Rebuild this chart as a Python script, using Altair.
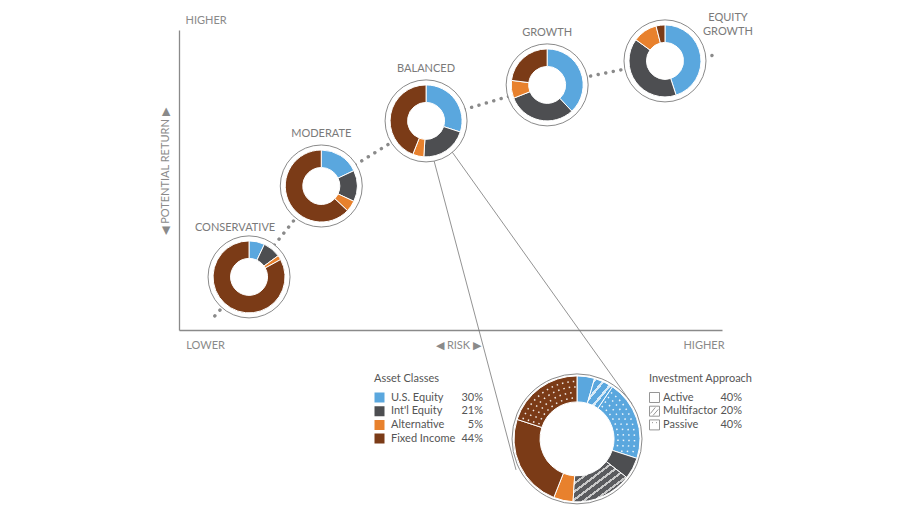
import math
import numpy as np
import pandas as pd
import altair as alt

# ---------------- data ----------------
PORTFOLIOS = ["Conservative", "Moderate", "Balanced", "Growth", "Equity Growth"]
PORTFOLIO_LABELS = ["CONSERVATIVE", "MODERATE", "BALANCED", "GROWTH", "EQUITY GROWTH"]
RISK = [1.29, 2.62, 4.55, 6.78, 8.95]          # 0 (lower) .. 10 (higher)
RETURN = [1.77, 4.80, 6.97, 8.17, 8.97]        # 0 (lower) .. 10 (higher)

ASSET_CLASSES = ["U.S. Equity", "Int'l Equity", "Alternative", "Fixed Income"]
US_EQUITY = [7, 18, 30, 38, 45]
INTL_EQUITY = [8, 14, 21, 31, 40]
ALTERNATIVE = [2, 5, 5, 8, 11]
FIXED_INCOME = [83, 63, 44, 23, 4]
ASSET_PCT = [30, 21, 5, 44]                    # balanced portfolio

APPROACHES = ["Active", "Multifactor", "Passive"]
APPROACH_PCT = [40, 20, 40]

DETAIL_ASSET = ["U.S. Equity", "U.S. Equity", "U.S. Equity", "Int'l Equity", "Int'l Equity",
                "Alternative", "Fixed Income", "Fixed Income"]
DETAIL_APPROACH = ["Active", "Multifactor", "Passive", "Active", "Multifactor",
                   "Active", "Active", "Passive"]
DETAIL_VALUE = [4.5, 5, 20.5, 5.5, 15.5, 5, 24, 20]
DETAIL_RISK, DETAIL_RETURN = 7.33, -3.63       # where the enlarged donut sits

TREND_START = (0.66, 0.47)
TREND_END = (9.91, 9.17)

# ---------------- styles ----------------
FONT = "Lato"
GREY = "#8a8a8a"
TXT = "#555555"
COLORS = ["#5aa7de", "#4d4e51", "#e8812d", "#7b3b17"]

XS = alt.Scale(domain=[0, 10], nice=False, zero=False)
YS = alt.Scale(domain=[0, 10], nice=False, zero=False)
TS = alt.Scale(domain=[0, 100], range=[0, 2 * math.pi])
CS = alt.Scale(domain=ASSET_CLASSES, range=COLORS)

XAX = alt.Axis(values=[0.48, 9.66], labelExpr="datum.value < 5 ? 'LOWER' : 'HIGHER'",
               ticks=False, grid=False, domainColor=GREY, domainWidth=1.3,
               labelFont=FONT, labelFontSize=11, labelColor=GREY, labelPadding=9,
               labelAlign="center", labelFlush=False,
               title="◀ RISK ▶", titleFont=FONT, titleFontSize=11, titleFontWeight="normal",
               titleColor=GREY, titleX=279, titleY=15, titleBaseline="middle", titleAlign="center")
YAX = alt.Axis(values=[10], labelExpr="'HIGHER'", ticks=False, grid=False,
               domainColor=GREY, domainWidth=1.3, labelFont=FONT, labelFontSize=11,
               labelColor=GREY, labelAlign="left", labelBaseline="middle", labelPadding=-6,
               labelOffset=-10, labelFlush=False,
               title="◀ POTENTIAL RETURN ▶", titleFont=FONT, titleFontSize=11,
               titleFontWeight="normal", titleColor=GREY, titleAngle=270, titleX=-14,
               titleY=141, titleAlign="center", titleBaseline="middle")

LEG_COMMON = dict(labelFont=FONT, labelFontSize=11, labelColor=TXT, rowPadding=0.7, padding=0,
                  symbolSize=100, clipHeight=13)
TITLE_COMMON = dict(titleFont=FONT, titleFontSize=11, titleFontWeight="normal", titleColor=TXT,
                    titlePadding=7)

CLEG = alt.Legend(title="Asset Classes", orient="none", legendX=195, legendY=343,
                  symbolType="square", symbolStrokeWidth=0, labelOffset=6,
                  **LEG_COMMON, **TITLE_COMMON)


def pos():
    return dict(x=alt.X("risk:Q", scale=XS, axis=XAX), y=alt.Y("ret:Q", scale=YS, axis=YAX))


# ---------------- tables ----------------
port = pd.DataFrame({"portfolio": PORTFOLIOS, "label": PORTFOLIO_LABELS, "risk": RISK, "ret": RETURN})

rows = []
for i, name in enumerate(PORTFOLIOS):
    s = 0
    for asset, vals in zip(ASSET_CLASSES, [US_EQUITY, INTL_EQUITY, ALTERNATIVE, FIXED_INCOME]):
        rows.append(dict(portfolio=name, risk=RISK[i], ret=RETURN[i], asset=asset, start=s, end=s + vals[i]))
        s += vals[i]
donuts = pd.DataFrame(rows)

drows = []
s = 0
for a, ap, v in zip(DETAIL_ASSET, DETAIL_APPROACH, DETAIL_VALUE):
    drows.append(dict(risk=DETAIL_RISK, ret=DETAIL_RETURN, asset=a, approach=ap, start=s, end=s + v))
    s += v
detail = pd.DataFrame(drows)

R_IN, R_OUT = 37, 63
dot_rows = []
for _, seg in detail[detail.approach == "Passive"].iterrows():
    for r in np.arange(R_IN + 4, R_OUT - 2, 5.5):
        step = 5.5 / r / (2 * math.pi) * 100
        half = 0.75 / r / (2 * math.pi) * 100
        t = seg.start + step / 2
        while t < seg.end - step / 3:
            dot_rows.append(dict(risk=seg.risk, ret=seg.ret, t0=t - half, t1=t + half, r0=r - 0.75, r1=r + 0.75))
            t += step
dots = pd.DataFrame(dot_rows)

trend = pd.DataFrame({"risk": [TREND_START[0]] + RISK + [TREND_END[0]],
                      "ret": [TREND_START[1]] + RETURN + [TREND_END[1]]})

bi = PORTFOLIOS.index("Balanced")
conn = pd.DataFrame({"risk": [RISK[bi]], "ret": [RETURN[bi]], "risk2": [DETAIL_RISK], "ret2": [DETAIL_RETURN]})
det_center = pd.DataFrame({"risk": [DETAIL_RISK], "ret": [DETAIL_RETURN]})

asset_pct = pd.DataFrame({"key": [f"{a}|{p}%" for a, p in zip(ASSET_CLASSES, ASSET_PCT)]})
appr = pd.DataFrame({"approach": APPROACHES, "risk": DETAIL_RISK, "ret": DETAIL_RETURN})
appr_pct = pd.DataFrame({"key": [f"{a}|{p}%" for a, p in zip(APPROACHES, APPROACH_PCT)]})


def stripes(base, line, n, frac=0.68):
    stops = []
    for i in range(n):
        a, b, c = i / n, (i + frac) / n, (i + 1) / n
        stops += [{"offset": a, "color": base}, {"offset": b, "color": base},
                  {"offset": b, "color": line}, {"offset": c, "color": line}]
    return {"gradient": "linear", "x1": 0, "y1": 0, "x2": 1, "y2": 1, "stops": stops}


# ---------------- layers ----------------
trend_line = alt.Chart(trend).mark_line(strokeDash=[0.1, 7.6], strokeCap="round", strokeWidth=3.4,
                                        color=GREY).encode(**pos())

conn1 = alt.Chart(conn).mark_rule(color="#777777", strokeWidth=0.8, xOffset=8, yOffset=40,
                                  x2Offset=-61, y2Offset=31).encode(**pos(), x2="risk2:Q", y2="ret2:Q")
conn2 = alt.Chart(conn).mark_rule(color="#777777", strokeWidth=0.8, xOffset=26, yOffset=31,
                                  x2Offset=55, y2Offset=-35).encode(**pos(), x2="risk2:Q", y2="ret2:Q")

MULTI = "M -1 -1 L 1 -1 L 1 1 L -1 1 Z M -0.8 0.45 L 0.15 -0.75 M -0.3 0.85 L 0.75 -0.35"
DOTTED = "M -1 -1 L 1 -1 L 1 1 L -1 1 Z M -0.5 -0.45 L -0.3 -0.45 M 0.3 -0.45 L 0.5 -0.45"

# carries the "Investment Approach" legend; its points sit hidden under the detail circle
appr_leg = alt.Chart(appr).mark_point(filled=False, color=GREY, strokeWidth=0.9, size=100, opacity=1).encode(
    **pos(),
    shape=alt.Shape("approach:N", scale=alt.Scale(domain=APPROACHES, range=["square", MULTI, DOTTED]),
                    legend=alt.Legend(title="Investment Approach", orient="none", legendX=470, legendY=343,
                                      labelOffset=3, symbolOpacity=1, symbolFillColor="white",
                                      symbolStrokeColor=GREY, symbolStrokeWidth=0.9,
                                      **LEG_COMMON, **TITLE_COMMON)))

circles = alt.Chart(port).mark_point(shape="circle", filled=True, fill="white", stroke=GREY,
                                     strokeWidth=1, size=82 ** 2, opacity=1).encode(**pos())
det_circle = alt.Chart(det_center).mark_point(shape="circle", filled=True, fill="white", stroke=GREY,
                                              strokeWidth=1, size=130 ** 2, opacity=1).encode(**pos())

small_arcs = alt.Chart(donuts).mark_arc(radius=36, radius2=18.5, stroke="white", strokeWidth=1).encode(
    **pos(), theta=alt.Theta("start:Q", scale=TS), theta2="end:Q",
    color=alt.Color("asset:N", scale=CS, legend=CLEG))

det_solid = alt.Chart(detail[detail.approach != "Multifactor"]).mark_arc(
    radius=R_OUT, radius2=R_IN, stroke="white", strokeWidth=1).encode(
    **pos(), theta=alt.Theta("start:Q", scale=TS), theta2="end:Q",
    color=alt.Color("asset:N", scale=CS, legend=CLEG))

det_hatch_us = alt.Chart(detail[(detail.approach == "Multifactor") & (detail.asset == "U.S. Equity")]).mark_arc(
    radius=R_OUT, radius2=R_IN, stroke="white", strokeWidth=1,
    fill=stripes(COLORS[0], "#d6e9f7", 5)).encode(
    **pos(), theta=alt.Theta("start:Q", scale=TS), theta2="end:Q")
det_hatch_intl = alt.Chart(detail[(detail.approach == "Multifactor") & (detail.asset == "Int'l Equity")]).mark_arc(
    radius=R_OUT, radius2=R_IN, stroke="white", strokeWidth=1,
    fill=stripes("#5a5b5e", "#c9c9c9", 10)).encode(
    **pos(), theta=alt.Theta("start:Q", scale=TS), theta2="end:Q")

det_dots = alt.Chart(dots).mark_arc(fill="white", opacity=0.9).encode(
    **pos(), theta=alt.Theta("t0:Q", scale=TS), theta2="t1:Q",
    radius=alt.Radius("r0:Q", scale=None), radius2="r1:Q")

lbl_style = dict(font=FONT, fontSize=11, color="#7a7a7a")
labels = alt.Chart(port[port.portfolio.isin(["Moderate", "Balanced", "Growth"])]).mark_text(
    dy=-52, **lbl_style).encode(**pos(), text="label:N")
label_cons = alt.Chart(port[port.portfolio == "Conservative"]).mark_text(
    dx=-14, dy=-49, **lbl_style).encode(**pos(), text="label:N")
label_eg = alt.Chart(port[port.portfolio == "Equity Growth"]).mark_text(
    dx=63, dy=-43, lineBreak=" ", lineHeight=14, **lbl_style).encode(**pos(), text="label:N")

TRANSPARENT = "rgba(0,0,0,0)"
asset_pct_leg = alt.Chart(asset_pct).mark_point(size=0, filled=False).encode(
    stroke=alt.Stroke("key:N", scale=alt.Scale(domain=list(asset_pct.key), range=[TRANSPARENT] * 4),
                      legend=alt.Legend(title=None, orient="none", legendX=292, legendY=361,
                                        symbolType="square", labelAlign="right", labelOffset=0,
                                        labelExpr="split(datum.label, '|')[1]", **LEG_COMMON)))

appr_pct_leg = alt.Chart(appr_pct).mark_point(size=0, filled=True).encode(
    fill=alt.Fill("key:N", scale=alt.Scale(domain=list(appr_pct.key), range=[TRANSPARENT] * 3),
                  legend=alt.Legend(title=None, orient="none", legendX=551, legendY=361,
                                    symbolType="square", labelAlign="right", labelOffset=0,
                                    labelExpr="split(datum.label, '|')[1]", **LEG_COMMON)))

chart = alt.layer(
    trend_line, conn1, conn2, appr_leg, circles, det_circle, small_arcs, det_solid, det_hatch_us,
    det_hatch_intl, det_dots, labels, label_cons, label_eg, asset_pct_leg, appr_pct_leg
).properties(
    width=543, height=300, background="white",
    padding={"left": 179, "top": 30, "right": 178, "bottom": 190},
    autosize=alt.AutoSizeParams(type="none")
).configure_view(stroke=None)

chart.save("out.html", embed_options={"renderer": "svg", "actions": False})
